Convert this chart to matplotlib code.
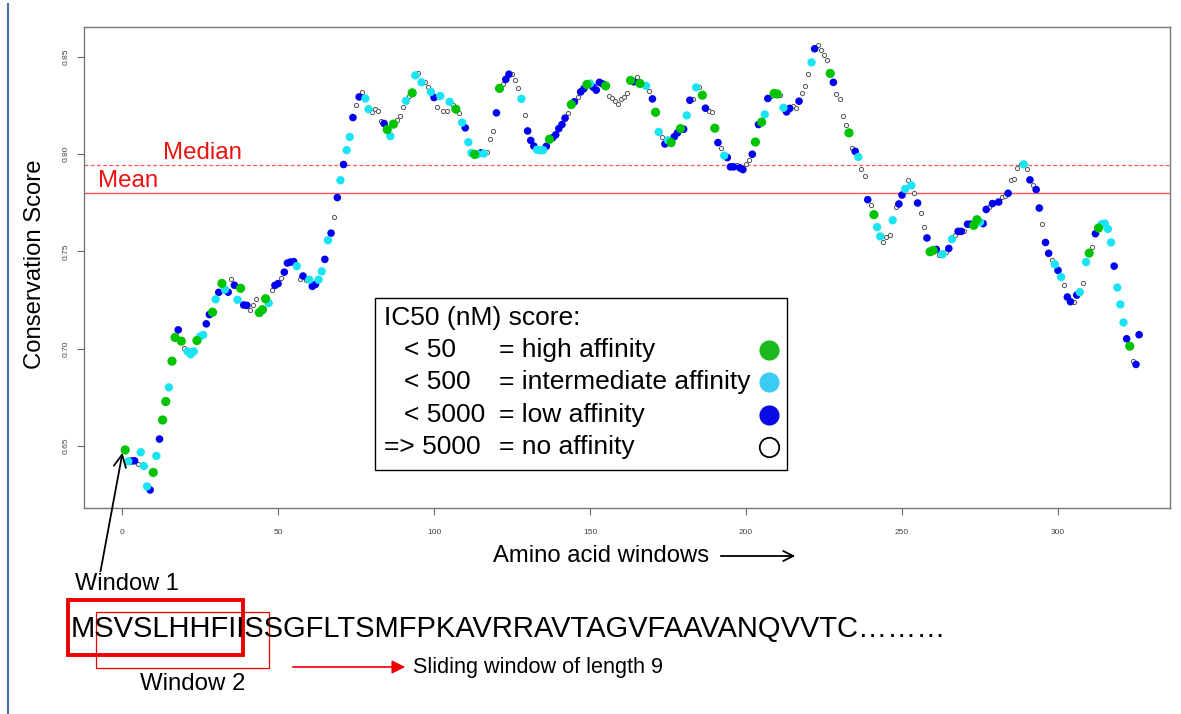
import matplotlib
matplotlib.use("Agg")
import matplotlib.pyplot as plt
from matplotlib.patches import Rectangle, FancyArrowPatch
from matplotlib.lines import Line2D

plt.rcParams['font.family'] = ['Liberation Sans', 'DejaVu Sans']

# affinity codes: G = high (<50), C = intermediate (<500), B = low (<5000), O = none (=>5000)
windows = list(range(1, 327))
scores = [
    0.6478, 0.6419, 0.6421, 0.6422, 0.6408, 0.6466, 0.6395, 0.6290, 0.6272, 0.6362,
    0.6447, 0.6534, 0.6632, 0.6727, 0.6800, 0.6935, 0.7057, 0.7096, 0.7038, 0.7004,
    0.6985, 0.6970, 0.6985, 0.7041, 0.7062, 0.7070, 0.7127, 0.7175, 0.7187, 0.7253,
    0.7289, 0.7335, 0.7304, 0.7290, 0.7359, 0.7326, 0.7251, 0.7310, 0.7224, 0.7222,
    0.7200, 0.7226, 0.7255, 0.7185, 0.7200, 0.7256, 0.7234, 0.7300, 0.7325, 0.7334,
    0.7365, 0.7393, 0.7440, 0.7445, 0.7447, 0.7424, 0.7360, 0.7373, 0.7355, 0.7354,
    0.7320, 0.7330, 0.7354, 0.7397, 0.7459, 0.7557, 0.7594, 0.7677, 0.7777, 0.7866,
    0.7947, 0.8021, 0.8089, 0.8189, 0.8253, 0.8295, 0.8318, 0.8287, 0.8232, 0.8220,
    0.8235, 0.8225, 0.8170, 0.8158, 0.8127, 0.8093, 0.8155, 0.8175, 0.8195, 0.8245,
    0.8275, 0.8300, 0.8316, 0.8406, 0.8416, 0.8370, 0.8370, 0.8345, 0.8321, 0.8292,
    0.8245, 0.8300, 0.8225, 0.8225, 0.8270, 0.8255, 0.8232, 0.8213, 0.8163, 0.8136,
    0.8062, 0.8007, 0.7999, 0.8000, 0.8007, 0.8004, 0.8010, 0.8080, 0.8120, 0.8213,
    0.8339, 0.8360, 0.8385, 0.8412, 0.8412, 0.8380, 0.8340, 0.8285, 0.8200, 0.8120,
    0.8071, 0.8042, 0.8024, 0.8020, 0.8021, 0.8041, 0.8077, 0.8085, 0.8100, 0.8132,
    0.8153, 0.8186, 0.8213, 0.8256, 0.8270, 0.8295, 0.8321, 0.8337, 0.8359, 0.8364,
    0.8345, 0.8330, 0.8370, 0.8362, 0.8352, 0.8300, 0.8290, 0.8275, 0.8257, 0.8285,
    0.8295, 0.8316, 0.8380, 0.8373, 0.8400, 0.8364, 0.8360, 0.8352, 0.8327, 0.8285,
    0.8216, 0.8115, 0.8090, 0.8053, 0.8072, 0.8060, 0.8090, 0.8110, 0.8132, 0.8129,
    0.8200, 0.8278, 0.8285, 0.8344, 0.8345, 0.8304, 0.8237, 0.8225, 0.8220, 0.8134,
    0.8060, 0.8030, 0.7993, 0.7983, 0.7935, 0.7935, 0.7945, 0.7930, 0.7921, 0.7948,
    0.7970, 0.8000, 0.8063, 0.8153, 0.8165, 0.8205, 0.8287, 0.8300, 0.8313, 0.8310,
    0.8307, 0.8239, 0.8218, 0.8236, 0.8247, 0.8240, 0.8273, 0.8313, 0.8352, 0.8411,
    0.8473, 0.8543, 0.8560, 0.8535, 0.8510, 0.8486, 0.8416, 0.8370, 0.8310, 0.8285,
    0.8196, 0.8150, 0.8110, 0.8032, 0.8015, 0.7986, 0.7925, 0.7886, 0.7766, 0.7737,
    0.7689, 0.7625, 0.7577, 0.7550, 0.7572, 0.7585, 0.7660, 0.7730, 0.7744, 0.7790,
    0.7821, 0.7865, 0.7840, 0.7803, 0.7749, 0.7696, 0.7628, 0.7569, 0.7498, 0.7505,
    0.7510, 0.7480, 0.7485, 0.7495, 0.7515, 0.7563, 0.7585, 0.7603, 0.7603, 0.7603,
    0.7640, 0.7640, 0.7634, 0.7663, 0.7650, 0.7643, 0.7716, 0.7730, 0.7746, 0.7755,
    0.7754, 0.7780, 0.7783, 0.7799, 0.7866, 0.7871, 0.7928, 0.7950, 0.7948, 0.7924,
    0.7868, 0.7840, 0.7818, 0.7723, 0.7643, 0.7546, 0.7490, 0.7457, 0.7433, 0.7402,
    0.7368, 0.7325, 0.7265, 0.7241, 0.7240, 0.7275, 0.7290, 0.7337, 0.7445, 0.7491,
    0.7522, 0.7591, 0.7620, 0.7640, 0.7643, 0.7615, 0.7546, 0.7424, 0.7314, 0.7227,
    0.7134, 0.7050, 0.7012, 0.6937, 0.6918, 0.7071,
]
affinity = list(
    "GCBBOCCCBG" "CBGGCGGBGO" "CCCGCCBBGC" "BGCBOBCGBB" "OOOGGGCOBB"
    "OBBBBCOBOC" "BBCCBCBOBC" "BCCBOBOCCO" "OOOBGCGOOO" "COGCOCOOCB"
    "OCOOCOGOCB" "CCGCBCOOOB" "GOBBOOOCOB" "BBCCCBGBBB" "BBOGBOBBGC"
    "BBBBGOOOOO" "OOGBOGOCOB" "GCOBCGBBGB" "CBOCOGBOOG" "BOCBBBOBBO"
    "OBGBGCBOGG" "OCBBOOBOOO" "CBOOOOGBOO" "OOGOBCOOBO" "GCCOOOCOBB"
    "COCOBOOBGG" "BOCOBCOBBO" "BBGGCBBOBO" "BOOBOOOOCO" "BOBBOBBOCB"
    "COBBOBCOCG" "OBGCCCCBCC" "CBGOBB"
)
assert len(windows) == len(scores) == len(affinity)

median_score = 0.7947
mean_score = 0.7803
x_ticks = [0, 50, 100, 150, 200, 250, 300]
y_ticks = [0.65, 0.70, 0.75, 0.80, 0.85]
sequence = "MSVSLHHFIISSGFLTSMFPKAVRRAVTAGVFAAVANQVVTC\u2026\u2026\u2026"

legend_rows = [
    ("< 50", "= high affinity", "G"),
    ("< 500", "= intermediate affinity", "C"),
    ("< 5000", "= low affinity", "B"),
    ("=> 5000", "= no affinity", "O"),
]

colors = {"G": "#00C400", "C": "#1AE4F4", "B": "#0000F0"}
legend_colors = {"G": "#1DB81D", "C": "#3CCBF4", "B": "#0A0AE6"}

W, H = 1181, 714


def fx(px):
    return px / W


def fy(py):
    return 1 - py / H


fig = plt.figure(figsize=(W / 100, H / 100), dpi=100)

# slide frame
fig.add_artist(Line2D([fx(8), fx(8)], [fy(4), 0], transform=fig.transFigure,
                      color="#4A6FA5", lw=1.5))

ax = fig.add_axes([fx(84), fy(508), fx(1170) - fx(84), fy(27) - fy(508)])
ax.set_xlim(-12.2, 335.9)
ax.set_ylim(0.6179, 0.8655)
for sp in ax.spines.values():
    sp.set_color("#777777")
    sp.set_linewidth(1.0)

ax.axhline(median_score, color="#FF5555", lw=0.9, ls=(0, (3, 2)), zorder=1)
ax.axhline(mean_score, color="#FF5555", lw=1.0, zorder=1)

open_x = [w for w, a in zip(windows, affinity) if a == "O"]
open_y = [s for s, a in zip(scores, affinity) if a == "O"]
ax.scatter(open_x, open_y, s=9, facecolors="white", edgecolors="#555555",
           linewidths=0.7, zorder=2)
for code, size in (("B", 30), ("C", 36), ("G", 44)):
    xs = [w for w, a in zip(windows, affinity) if a == code]
    ys = [s for s, a in zip(scores, affinity) if a == code]
    ax.scatter(xs, ys, s=size, color=colors[code], edgecolors="none", zorder=3)

ax.set_xticks(x_ticks)
ax.set_xticklabels([str(t) for t in x_ticks])
ax.set_yticks(y_ticks)
ax.set_yticklabels(["%.2f" % t for t in y_ticks], rotation=90, va="center")
ax.tick_params(axis="both", labelsize=6, colors="#666666", length=5, width=0.8,
               labelcolor="#444444")
ax.tick_params(axis="x", pad=10)
ax.tick_params(axis="y", pad=5)

fig.text(fx(35), fy(264), "Conservation Score", rotation=90, fontsize=17.2,
         ha="center", va="center")
fig.text(fx(163), fy(153), "Median", color="#EE1111", fontsize=17.3, va="center")
fig.text(fx(98), fy(181), "Mean", color="#EE1111", fontsize=17.3, va="center")

fig.text(fx(493), fy(556), "Amino acid windows", fontsize=17.2, va="center")
fig.add_artist(FancyArrowPatch(
    (fx(718), fy(556)), (fx(798), fy(556)), transform=fig.transFigure,
    arrowstyle="->", mutation_scale=18, lw=1.3, color="black"))

# legend box
fig.add_artist(Rectangle((fx(375), fy(470)), fx(787) - fx(375), fy(298) - fy(470),
                         transform=fig.transFigure, facecolor="white",
                         edgecolor="black", lw=1.0, zorder=5))
fig.text(fx(384), fy(318), "IC50 (nM) score:", fontsize=19, va="center", zorder=6)
for i, (lim, desc, code) in enumerate(legend_rows):
    yy = fy(350 + i * 32.3)
    fig.text(fx(384 if lim.startswith("=") else 404), yy, lim, fontsize=19,
             va="center", zorder=6)
    fig.text(fx(499), yy, desc, fontsize=19, va="center", zorder=6)
    if code == "O":
        mk = Line2D([fx(769)], [yy], marker="o", markersize=14,
                    markerfacecolor="white", markeredgecolor="black",
                    markeredgewidth=1.3, transform=fig.transFigure, zorder=6)
    else:
        mk = Line2D([fx(769)], [yy], marker="o", markersize=14.5,
                    markerfacecolor=legend_colors[code], markeredgecolor="none",
                    transform=fig.transFigure, zorder=6)
    fig.add_artist(mk)

# sliding window illustration
fig.text(fx(75), fy(584), "Window 1", fontsize=17, va="center")
fig.add_artist(FancyArrowPatch(
    (fx(100), fy(574)), (fx(123), fy(450)), transform=fig.transFigure,
    arrowstyle="->", mutation_scale=22, lw=1.3, color="black"))
fig.text(fx(71), fy(629), sequence, fontsize=21, va="center")
fig.add_artist(Rectangle((fx(68), fy(655)), fx(243) - fx(68), fy(600) - fy(655),
                         transform=fig.transFigure, facecolor="none",
                         edgecolor="#EE0000", lw=2.8))
fig.add_artist(Rectangle((fx(96), fy(668)), fx(269) - fx(96), fy(612) - fy(668),
                         transform=fig.transFigure, facecolor="none",
                         edgecolor="#EE0000", lw=0.9))
fig.text(fx(140), fy(684), "Window 2", fontsize=17.3, va="center")
fig.add_artist(FancyArrowPatch(
    (fx(290), fy(667)), (fx(408), fy(667)), transform=fig.transFigure,
    arrowstyle="-|>", mutation_scale=20, lw=1.2, color="#EE0000"))
fig.text(fx(413), fy(668), "Sliding window of length 9", fontsize=15.6, va="center")

fig.savefig("out.png", dpi=100)
